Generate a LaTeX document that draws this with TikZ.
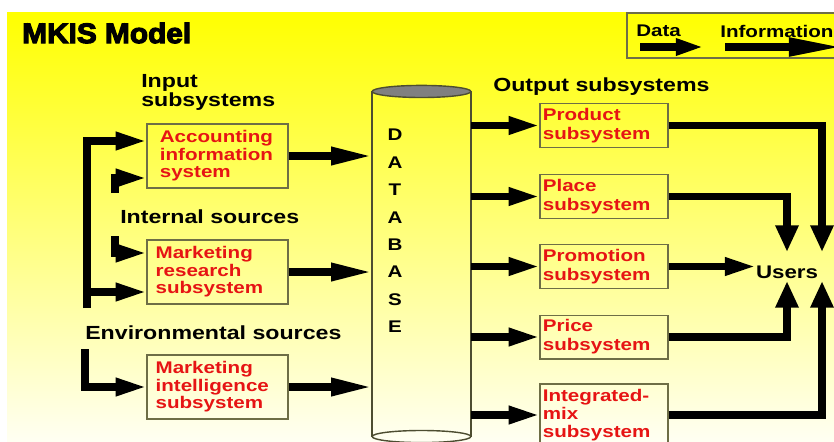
\documentclass[tikz,border=0pt]{standalone}
\usepackage{fontspec}
\setmainfont{Liberation Sans}[FakeStretch=1.22]
\newfontfamily\titlefont{Liberation Sans}[FakeStretch=1.06,FakeBold=4]
\usepackage{xcolor}
\usetikzlibrary{arrows.meta}

\definecolor{boxred}{RGB}{230,20,20}
\definecolor{boxedge}{RGB}{110,110,70}
\definecolor{dbgray}{RGB}{128,128,128}

\begin{document}
\begin{tikzpicture}[x=0.025cm, y=-0.025cm, line join=miter,
  sub/.style={draw=boxedge, line width=1pt, text=boxred, align=left, inner sep=0pt,
    font=\bfseries\fontsize{12}{12.5}\selectfont},
  inbox/.style={sub, minimum width=100pt, minimum height=45.4pt, text width=88pt},
  outbox/.style={sub, minimum width=90.8pt, minimum height=31pt, text width=87pt,
    font=\bfseries\fontsize{12}{13.5}\selectfont},
  head/.style={anchor=west, align=left, inner sep=0pt,
    font=\bfseries\fontsize{13.5}{12.5}\selectfont},
  dbtxt/.style={inner sep=0pt, font=\bfseries\fontsize{12}{12}\selectfont},
  flow/.style={line width=5pt, -{Triangle[length=22pt,width=12pt]}},
  longflow/.style={flow, -{Triangle[length=29pt,width=12pt]}},
  usr/.style={line width=5.5pt, -{Triangle[length=19pt,width=15.5pt]}}]
  \useasboundingbox (0,0) rectangle (834,441);
  % background
  \fill[white] (0,0) rectangle (834,441);
  \shade[top color=yellow, middle color=yellow!55!white, bottom color=yellow!5!white]
    (7,12) rectangle (834,441);
  % title
  \node[anchor=west, inner sep=0pt] (title) at (22,33)
    {\titlefont\bfseries\fontsize{20}{20}\selectfont MKIS Model};
  % legend
  \draw[boxedge, line width=1pt] (627,13) rectangle (860,58);
  \node[dbtxt, anchor=west] (datalbl) at (636,31) {Data};
  \node[dbtxt, anchor=west] (infolbl) at (720,31) {Information};
  \coordinate (dataA) at (640,47);
  \coordinate (dataB) at (704,47);
  \coordinate (infoA) at (725,47);
  \coordinate (infoB) at (845,47);
  \draw[line width=5.5pt, -{Triangle[length=20pt,width=11pt]}] (dataA) -- (dataB);
  \draw[line width=6pt, -{Triangle[length=40pt,width=12pt]}] (infoA) -- (infoB);

  % database
  \node[minimum width=70.2pt, minimum height=245pt, inner sep=0pt] (db) at (421.5,264) {};
  \draw[boxedge!70!black, line width=1pt] (db.north west) -- (db.south west)
    (db.north east) -- (db.south east);
  \draw[boxedge!70!black, line width=1pt] (db.south) ellipse [x radius=35.1pt, y radius=4.3pt];
  \draw[boxedge!70!black, line width=1pt, fill=dbgray] (db.north) ellipse [x radius=35.1pt, y radius=4.3pt];
  \foreach \ch [count=\i] in {D,A,T,A,B,A,S,E}
    \node[dbtxt] (dbl\i) at (395,135+27.4*\i-27.4) {\ch};

  % input side
  \node[head] (inhead) at (141,92) {Input\\subsystems};
  \node[inbox, text width=82pt] (acc) at (217.5,156) {Accounting\\information\\system};
  \node[head] (intsrc) at (120,217) {Internal sources};
  \node[inbox] (mres) at (217.5,272) {Marketing\\research\\subsystem};
  \node[head] (envsrc) at (85,333) {Environmental sources};
  \node[inbox] (mint) at (217.5,387) {Marketing\\intelligence\\subsystem};

  \coordinate (busTop) at (87,141);
  \coordinate (busMid) at (87,292);
  \coordinate (busBot) at (87,308);
  \draw[flow] (busBot) -- (busTop) -- (busTop -| acc.west);
  \draw[flow] (busMid) -- (busMid -| mres.west);
  \coordinate (intA) at (115,193);
  \coordinate (intAk) at (115,178);
  \draw[flow] (intA) -- (intAk) -- (intAk -| acc.west);
  \coordinate (intB) at (115,236);
  \coordinate (intBk) at (115,253);
  \draw[flow] (intB) -- (intBk) -- (intBk -| mres.west);
  \coordinate (envA) at (85,349);
  \draw[flow] (envA) |- (mint.west);

  \foreach \b in {acc,mres,mint}
    \draw[longflow] (\b.east) -- (\b.east -| db.west);

  % output side
  \node[head] (outhead) at (493,87) {Output subsystems};
  \node[outbox] (prod) at (604,125.5) {Product\\subsystem};
  \node[outbox] (place) at (604,196.5) {Place\\subsystem};
  \node[outbox] (promo) at (604,266.5) {Promotion\\subsystem};
  \node[outbox] (price) at (604,337) {Price\\subsystem};
  \node[outbox, minimum height=44pt, font=\bfseries\fontsize{12}{12.6}\selectfont] (intmix)
    at (604,415) {Integrated-\\mix\\subsystem};

  \foreach \o in {prod,place,promo,price,intmix}
    \draw[flow] (db.east |- \o.west) -- (\o.west);

  % users
  \node[dbtxt, font=\bfseries\fontsize{13}{13}\selectfont] (users) at (787,272) {Users};
  \coordinate (dnA) at (787,252);
  \coordinate (dnB) at (822,252);
  \coordinate (upA) at (787,281);
  \coordinate (upB) at (822,281);
  \draw[usr] (prod.east) -| (dnB);
  \draw[usr] (place.east) -| (dnA);
  \draw[flow] (promo.east) -- (promo.east -| users.west);
  \draw[usr] (price.east) -| (upA);
  \draw[usr] (intmix.east) -| (upB);
\end{tikzpicture}
\end{document}
